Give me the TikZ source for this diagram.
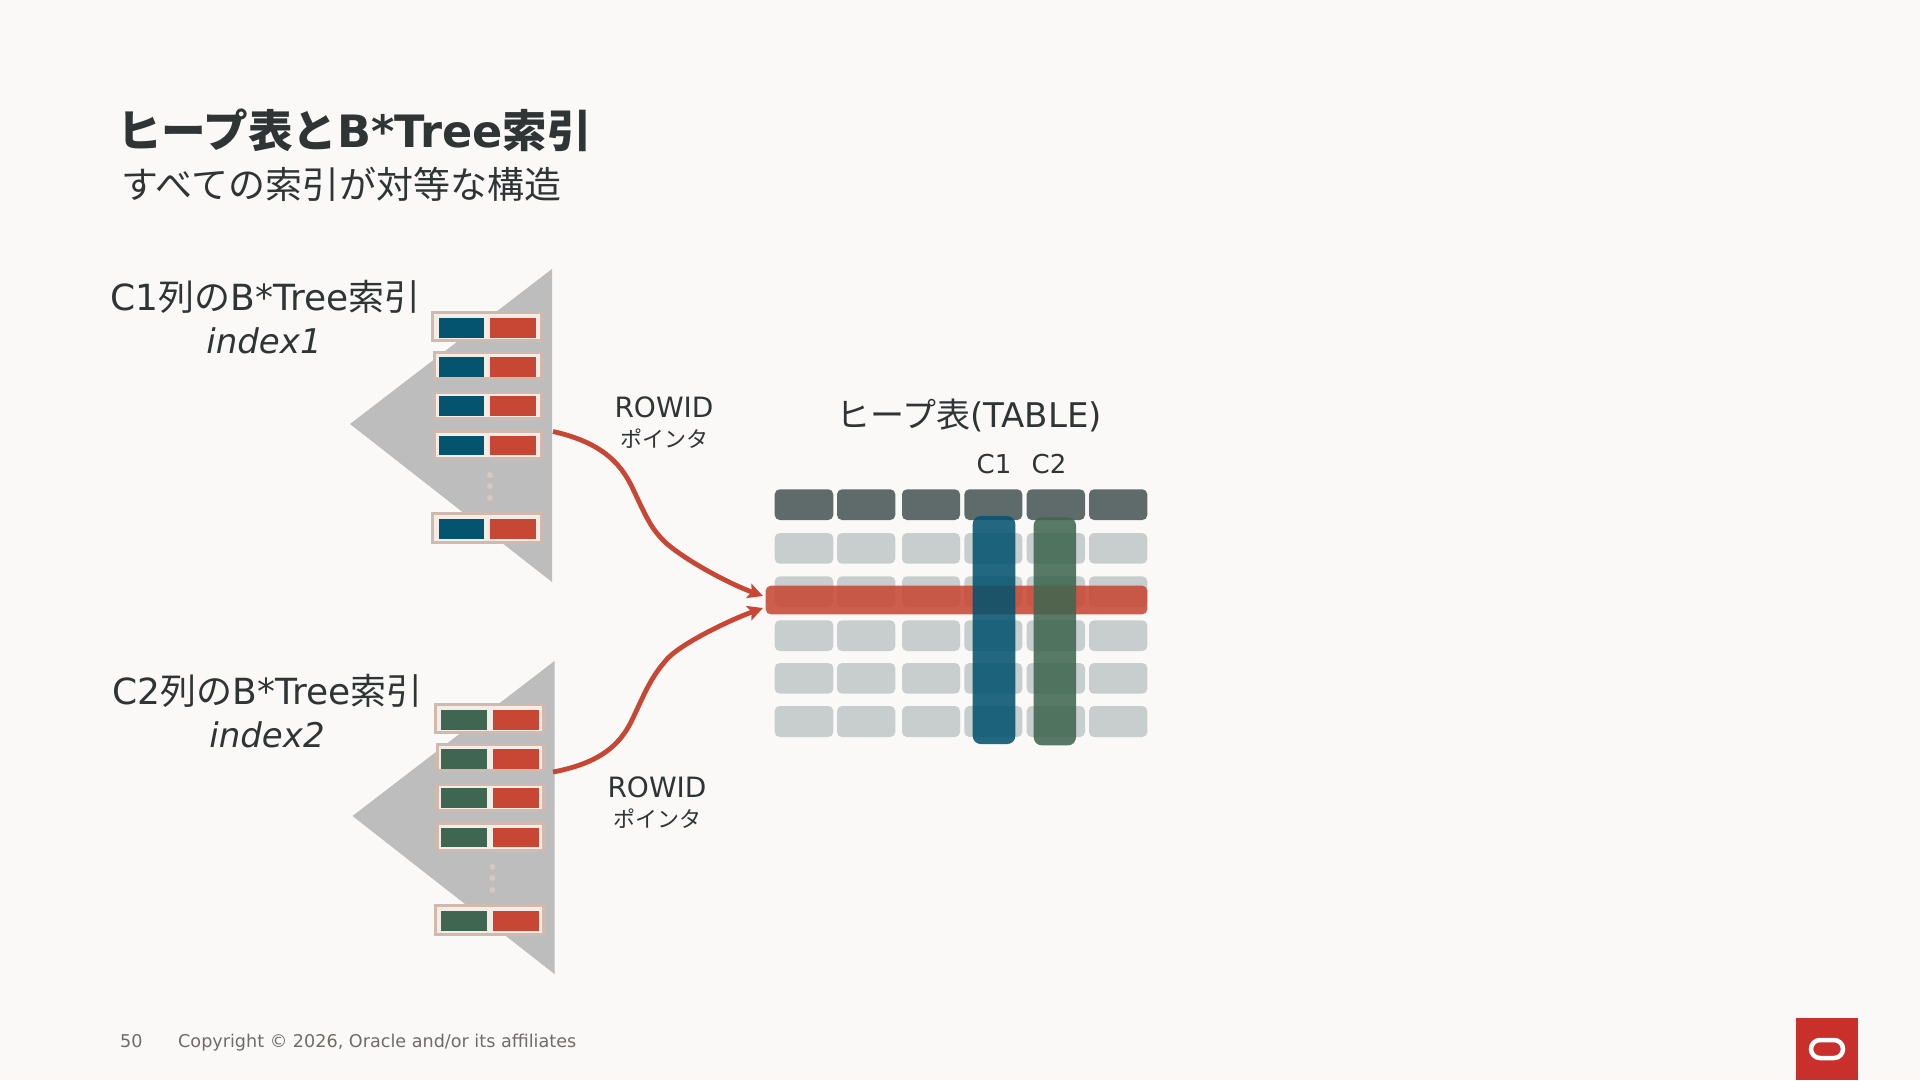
\documentclass[tikz,border=0pt]{standalone}
\usepackage{fontspec}
\setmainfont{DejaVu Sans}
\newfontfamily\cjk{Noto Sans CJK JP}
\newcommand\J[1]{{\cjk #1}}
\newcommand\fs[1]{\fontsize{#1}{#1}\selectfont}
\definecolor{bgc}{HTML}{FBF9F8}
\definecolor{ink}{HTML}{2F3535}
\definecolor{gy}{HTML}{BDBDBD}
\definecolor{hd}{HTML}{5F6B6B}
\definecolor{cl}{HTML}{C8CDCD}
\definecolor{orared}{HTML}{C74634}
\definecolor{blu}{HTML}{04536F}
\definecolor{grn}{HTML}{3F6650}
\definecolor{tan}{HTML}{D2B9AE}
\definecolor{pale}{HTML}{F3ECE7}
\definecolor{dotc}{HTML}{D8C8C0}
\definecolor{foot}{HTML}{6F6B68}
\definecolor{logo}{HTML}{C9302C}
\usetikzlibrary{arrows.meta}
\tikzset{
 lbl/.style={inner sep=0pt,text=ink,align=center,font=\fs{36}},
 sm/.style={inner sep=0pt,text=ink,align=center,font=\fs{28}},
 ptr/.style={inner sep=0pt,text=ink,font=\fs{22}},
 cellbox/.style={rounded corners=5pt},
 frameb/.style={draw=tan,line width=3pt,fill=pale},
 conn/.style={draw=orared,line width=4.8pt,-{Stealth[length=15pt,width=15pt,inset=3pt]}},
}
\newcommand\idxrow[6]{% x0, frame top, frame bottom, colour, x offset, inner top
 \path[frameb] (#1+1.5+#5,#2+1.5) rectangle (541+#5,#3-1.5);
 \fill[#4] (438.5+#5,#6) rectangle (484+#5,#6+19.5);
 \fill[orared] (490+#5,#6) rectangle (536+#5,#6+19.5);
}
\newcommand\tree[3]{% dx, dy, colour
 \fill[gy] (350+#1,424+#2) -- (552+#1,269+#2) -- (552+#1,582+#2) -- cycle;
 \idxrow{431}{311+#2}{342+#2}{#3}{#1}{318+#2}
 \idxrow{433}{351+#2}{380+#2}{#3}{#1}{357+#2}
 \idxrow{433}{391+#2}{420+#2}{#3}{#1}{396+#2}
 \idxrow{433}{430+#2}{460+#2}{#3}{#1}{435.5+#2}
 \idxrow{431}{512+#2}{544+#2}{#3}{#1}{519+#2}
 \foreach \yy in {475,486,498} \fill[dotc] (490+#1,\yy+#2) circle (3);
}
\begin{document}
\begin{tikzpicture}[x=1pt,y=-1pt]
\useasboundingbox (0,0) rectangle (1920,1080);
\fill[bgc] (0,0) rectangle (1920,1080);
% title
\node[anchor=west,inner sep=0pt,text=ink,font=\fs{44.6}\bfseries] (title) at (117,130) {\J{ヒープ表と}B*Tree\J{索引}};
\node[anchor=west,inner sep=0pt,text=ink,font=\fs{37}] (subtitle) at (121,184) {\J{すべての索引が対等な構造}};
% trees
\tree{0}{0}{blu}
\tree{2.5}{392}{grn}
\node[lbl] (lab1) at (265.5,297) {C1\J{列の}B*Tree\J{索引}};
\node[lbl,font=\fs{34}\itshape] (lab1b) at (264,341) {index1};
\node[lbl] (lab2) at (267.5,691) {C2\J{列の}B*Tree\J{索引}};
\node[lbl,font=\fs{34}\itshape] (lab2b) at (267,735) {index2};
% table
\def\colsA{774.7/833.3,837/895.3,902/960,964.3/1022.3,1026.7/1085,1089/1147.3}
\foreach \xa/\xb in \colsA {
  \fill[hd,cellbox] (\xa,489.3) rectangle (\xb,520);
  \foreach \ya/\yb in {533/563.7,576.3/607,620.3/651,663/693.7,706/737}
    \fill[cl,cellbox] (\xa,\ya) rectangle (\xb,\yb);
}
\fill[orared,opacity=.87,rounded corners=5pt] (765.7,585.7) rectangle (1147.3,614.3);
\fill[blu,opacity=.87,rounded corners=8pt] (972.7,516) rectangle (1015.3,744);
\fill[grn,opacity=.87,rounded corners=8pt] (1033.7,517.3) rectangle (1076,745.3);
\node[lbl,font=\fs{34}] (tabletitle) at (969,415) {\J{ヒープ表}(TABLE)};
\node[inner sep=0pt,text=ink,font=\fs{26}] (c1) at (994,464) {C1};
\node[inner sep=0pt,text=ink,font=\fs{26}] (c2) at (1049,464) {C2};
% pointers
\coordinate (p1s) at (553,431.5);
\coordinate (p1e) at (763,596);
\coordinate (p2s) at (553,772);
\coordinate (p2e) at (763,608);
\draw[conn] (p1s) .. controls (600,442) and (620,462) .. (632,487) .. controls (645,514) and (650,528) .. (666,543) .. controls (688,562) and (730,584) .. (p1e);
\draw[conn] (p2s) .. controls (600,763) and (620,745) .. (632,720) .. controls (645,693) and (650,678) .. (668,658) .. controls (684,642) and (730,620) .. (p2e);
\node[sm] (r1) at (664,407) {ROWID};
\node[ptr] (r1b) at (664,439) {\J{ポインタ}};
\node[sm] (r2) at (657,787) {ROWID};
\node[ptr] (r2b) at (657,819) {\J{ポインタ}};
% footer
\node[anchor=west,inner sep=0pt,text=foot,font=\fs{17.6}] (pg) at (120,1041) {50};
\node[anchor=west,inner sep=0pt,text=foot,font=\fs{17.6}] (copy) at (178,1043) {Copyright © 2026, Oracle and/or its affiliates};
\fill[logo] (1796,1018) rectangle (1858,1080);
\draw[white,line width=4.5pt,rounded corners=9pt] (1811,1040) rectangle (1843,1058);
\end{tikzpicture}
\end{document}
